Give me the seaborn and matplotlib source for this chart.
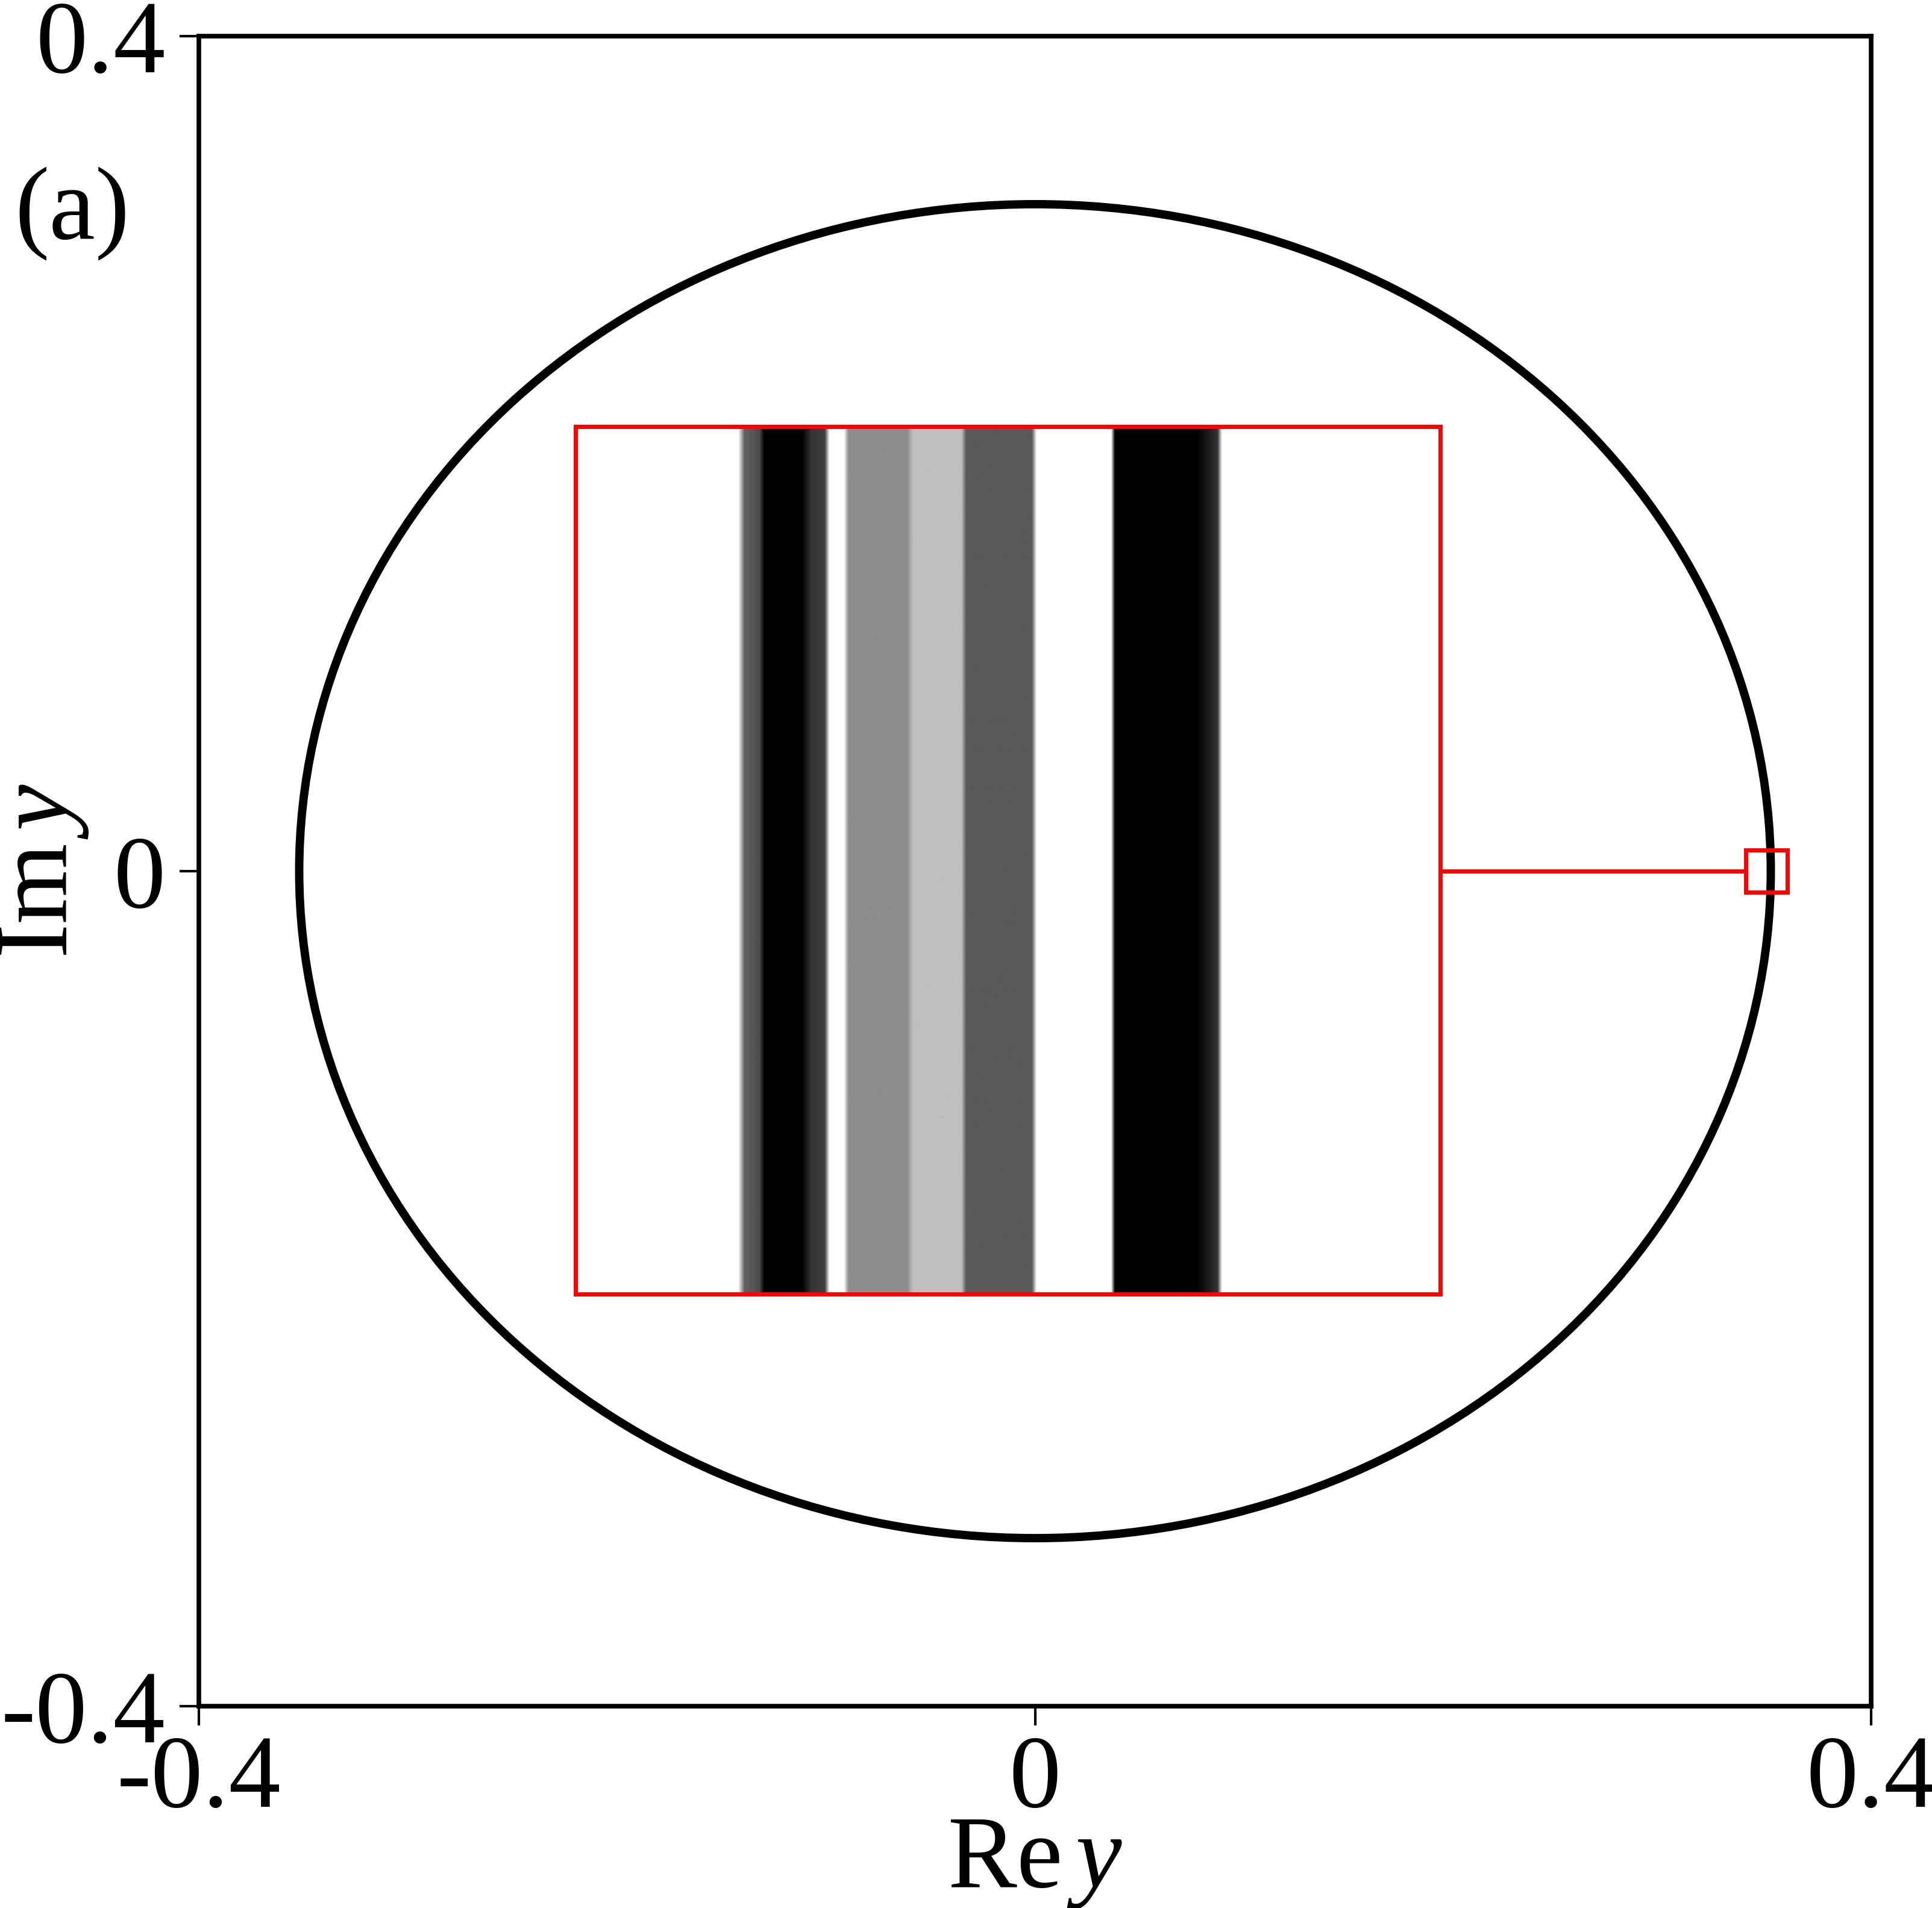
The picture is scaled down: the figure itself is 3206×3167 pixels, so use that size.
import numpy as np
import matplotlib
matplotlib.use('Agg')
import matplotlib.pyplot as plt
from matplotlib.patches import Ellipse, Rectangle
from matplotlib.colors import LinearSegmentedColormap
import seaborn as sns

# ---------------------------------------------------------------------------
# values
# ---------------------------------------------------------------------------

# outer boundary of the spectrum (drawn as one thick ring)
ring_center = (0.0, 0.0)
ring_semi_re = 0.352
ring_semi_im = 0.3195

# small window on the ring at Im y = 0 that gets magnified
zoom_re = [0.340, 0.360]
zoom_im = [-0.0101, 0.0101]

# where the magnified view is placed in the main axes
inset_re = [-0.2198, 0.1939]
inset_im = [-0.2026, 0.2130]

# density across the ring inside the zoom window (Re y, darkness 0..1)
profile_re = [0.34376, 0.34390, 0.34425, 0.34436, 0.34523, 0.34544, 0.34576,
              0.34587, 0.34620, 0.34631, 0.34767, 0.34780, 0.34892, 0.34903,
              0.35055, 0.35066, 0.35238, 0.35247, 0.35436, 0.35484, 0.35495]
profile_dark = [0.00, 0.62, 0.70, 1.00, 1.00, 0.80, 0.75,
                0.00, 0.00, 0.45, 0.45, 0.25, 0.25, 0.65,
                0.65, 0.00, 0.00, 1.00, 1.00, 0.80, 0.00]

xticks = [-0.4, 0, 0.4]
xtick_labels = ['-0.4', '0', '0.4']
yticks = [-0.4, 0, 0.4]
ytick_labels = ['-0.4', '0', '0.4']
axis_lim = [-0.4, 0.4]

# ---------------------------------------------------------------------------
# style
# ---------------------------------------------------------------------------
sns.set_theme(style='ticks')
plt.rcParams['font.family'] = ['Liberation Serif', 'DejaVu Serif']
plt.rcParams['mathtext.fontset'] = 'custom'
plt.rcParams['mathtext.rm'] = 'Liberation Serif'
plt.rcParams['mathtext.it'] = 'Liberation Serif:italic'
plt.rcParams['axes.unicode_minus'] = False
plt.rcParams['text.color'] = 'black'
plt.rcParams['axes.labelcolor'] = 'black'
plt.rcParams['xtick.color'] = 'black'
plt.rcParams['ytick.color'] = 'black'

FS = 124
RED = '#ff0000'

fig = plt.figure(figsize=(32.06, 31.67), dpi=100)
ax = fig.add_axes([0.10293, 0.10578, 0.86557, 0.87527])

# main ring
ring = Ellipse(ring_center, 2 * ring_semi_re, 2 * ring_semi_im,
               fill=False, edgecolor='black', linewidth=10, zorder=3)
ax.add_patch(ring)

# zoom window + connector
win = Rectangle((zoom_re[0], zoom_im[0]), zoom_re[1] - zoom_re[0],
                zoom_im[1] - zoom_im[0], fill=False, edgecolor=RED,
                linewidth=5, zorder=5)
ax.add_patch(win)
mid_im = (zoom_im[0] + zoom_im[1]) / 2
ax.plot([inset_re[1], zoom_re[0]], [mid_im, mid_im], color=RED, lw=5,
        solid_capstyle='butt', zorder=4)

ax.set_xlim(axis_lim)
ax.set_ylim(axis_lim)
ax.set_xticks(xticks)
ax.set_xticklabels(xtick_labels)
ax.set_yticks(yticks)
ax.set_yticklabels(ytick_labels)
ax.tick_params(axis='both', direction='out', length=23, width=3,
               labelsize=FS, color='black', labelcolor='black')
ax.tick_params(axis='x', pad=11)
ax.tick_params(axis='y', pad=17)
for sp in ax.spines.values():
    sp.set_linewidth(5.5)
    sp.set_color('black')
    sp.set_visible(True)

ax.set_xlabel(r'$\mathrm{Re}\,y$', fontsize=FS, color='black')
ax.set_ylabel(r'$\mathrm{Im}\,y$', fontsize=FS, color='black')
ax.xaxis.set_label_coords(0.5, -0.066)
ax.yaxis.set_label_coords(-0.065, 0.5)

ax.text(-0.110, 0.894, '(a)', transform=ax.transAxes, fontsize=FS,
        ha='left', va='center', color='black')

# magnified view of the ring
axins = ax.inset_axes([inset_re[0], inset_im[0], inset_re[1] - inset_re[0],
                       inset_im[1] - inset_im[0]], transform=ax.transData,
                      zorder=6)
gray = LinearSegmentedColormap.from_list('gray_lin', ['white', 'black'])
# gray level across the window, sampled finely for the image
grid_re = np.linspace(zoom_re[0], zoom_re[1], 1600)
row = np.interp(grid_re, profile_re, profile_dark, left=0, right=0)
axins.imshow(row[np.newaxis, :], cmap=gray, vmin=0, vmax=1, aspect='auto',
             interpolation='bilinear',
             extent=[zoom_re[0], zoom_re[1], zoom_im[0], zoom_im[1]])
axins.set_xlim(zoom_re)
axins.set_ylim(zoom_im)
axins.set_xticks([])
axins.set_yticks([])
for sp in axins.spines.values():
    sp.set_edgecolor(RED)
    sp.set_linewidth(5)
    sp.set_visible(True)

fig.savefig('out.png', dpi=100)
